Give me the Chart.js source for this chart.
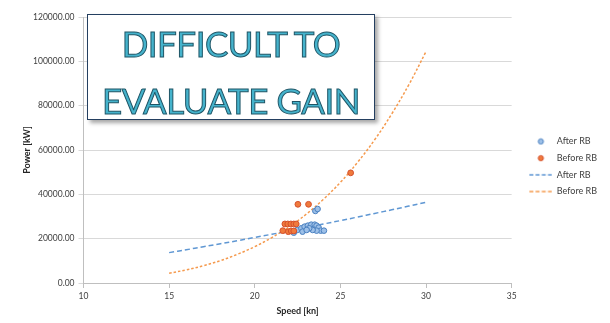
<!DOCTYPE html>
<html>
<head>
<meta charset="utf-8">
<script src="https://cdn.jsdelivr.net/npm/chart.js@4"></script>
<style>
  html, body { margin: 0; padding: 0; background: #fff; }
  #wrap { position: relative; width: 610px; height: 323px; }
  #c { position: absolute; left: 0; top: 0; }
  #note {
    position: absolute; left: 87px; top: 14px; width: 286px; height: 104px;
    background: #fff; border: 1.5px solid #243f60;
    box-shadow: 3px 3px 4px rgba(0,0,0,0.35);
  }
  .ln {
    position: absolute; left: 0; width: 100%; text-align: center;
    font-family: Lato, sans-serif; font-size: 35px; line-height: 40px;
    color: #45b3cc; -webkit-text-stroke: 1px #1f5566; letter-spacing: -0.5px;
    white-space: nowrap;
  }
</style>
</head>
<body>
<div id="wrap">
  <canvas id="c" width="610" height="323"></canvas>
  <div id="note">
    <div class="ln" style="top:8px">DIFFICULT TO</div>
    <div class="ln" style="top:65px">EVALUATE GAIN</div>
  </div>
</div>
<script>
// ---- data ----
const afterSpeed = [22.48, 22.72, 22.91, 23.10, 23.30, 23.50, 23.61, 23.73, 23.85, 24.04, 23.61, 23.38, 23.18, 22.79, 22.28, 23.03, 23.54, 23.67];
const afterPower = [23930, 24700, 25420, 25870, 26320, 26320, 25870, 24970, 23610, 23610, 23610, 23930, 24700, 23160, 22710, 23930, 32500, 33400];
const beforeSpeed = [21.76, 21.93, 22.11, 22.28, 22.42, 21.64, 21.96, 22.13, 22.28, 22.52, 23.14, 25.6];
const beforePower = [26640, 26640, 26640, 26640, 26640, 23610, 23160, 23480, 23480, 35500, 35500, 49700];
const trendSpeed = [15, 16, 17, 18, 19, 20, 21, 22, 23, 24, 25, 26, 27, 28, 29, 30];
const afterTrend = [13700, 15000, 16350, 17700, 19100, 20550, 22000, 23500, 25000, 26600, 28150, 29750, 31400, 33000, 34700, 36400];
const beforeTrend = [4400, 5900, 7800, 10100, 13000, 16400, 20500, 25300, 31000, 37700, 45400, 54400, 64600, 76300, 89500, 104400];
const seriesNames = ['After RB', 'Before RB'];
const xTicks = { min: 10, max: 35, step: 5 };
const yTicks = { min: 0, max: 120000, step: 20000 };

const blueLine = '#5f97d3', orangeLine = '#f59a4e';
const blueFill = '#9dc0e8', blueBorder = '#4a80c0';
const orangeFill = '#f07a3c', orangeBorder = '#d4502c';
const blueDash = [5, 3], orangeDash = [2.5, 2];

function pts(xs, ys) { return xs.map((x, i) => ({ x: x, y: ys[i] })); }

// legend icons: a slot, symbol drawn in its right 23px
const SLOT = 33, SYM = 23;
function circleIcon(fill, border) {
  const c = document.createElement('canvas'); c.width = SLOT; c.height = 8;
  const g = c.getContext('2d');
  g.beginPath(); g.arc(SLOT - SYM / 2, 4, 2.6, 0, Math.PI * 2);
  g.fillStyle = fill; g.fill(); g.lineWidth = 1; g.strokeStyle = border; g.stroke();
  return c;
}
function dashIcon(color) {
  const c = document.createElement('canvas'); c.width = SLOT; c.height = 4;
  const g = c.getContext('2d');
  g.strokeStyle = color; g.lineWidth = 1.5; g.setLineDash([4, 2.2]);
  g.beginPath(); g.moveTo(SLOT - SYM, 2); g.lineTo(SLOT, 2); g.stroke();
  return c;
}
const icons = [circleIcon(blueFill, blueBorder), circleIcon(orangeFill, orangeBorder), dashIcon(blueLine), dashIcon(orangeLine)];

const tickFont = { family: 'Lato, sans-serif', size: 8.5 };
const titleFont = { family: 'Lato, sans-serif', size: 9, weight: 'bold' };

new Chart(document.getElementById('c'), {
  type: 'scatter',
  data: {
    datasets: [
      { label: seriesNames[0], data: pts(afterSpeed, afterPower), backgroundColor: blueFill, borderColor: blueBorder, borderWidth: 1, pointRadius: 2.8, order: 1 },
      { label: seriesNames[1], data: pts(beforeSpeed, beforePower), backgroundColor: orangeFill, borderColor: orangeBorder, borderWidth: 1, pointRadius: 2.9, order: 0 },
      { label: seriesNames[0], type: 'line', data: pts(trendSpeed, afterTrend), borderColor: blueLine, borderWidth: 1.5, borderDash: blueDash, pointRadius: 0, tension: 0.4, fill: false, order: 2 },
      { label: seriesNames[1], type: 'line', data: pts(trendSpeed, beforeTrend), borderColor: orangeLine, borderWidth: 1.5, borderDash: orangeDash, pointRadius: 0, tension: 0.4, fill: false, order: 3 }
    ]
  },
  options: {
    responsive: false, animation: false, devicePixelRatio: 1,
    layout: { padding: { top: 17, right: 3, bottom: 7, left: 0 } },
    plugins: {
      tooltip: { enabled: false },
      legend: {
        position: 'right',
        labels: {
          font: { family: 'Lato, sans-serif', size: 9 }, color: '#404040',
          usePointStyle: true, pointStyleWidth: SLOT, padding: 7.7,
          generateLabels: (chart) => chart.data.datasets.map((ds, i) => ({
            text: ds.label, pointStyle: icons[i], datasetIndex: i, hidden: false,
            fillStyle: 'transparent', strokeStyle: 'transparent', lineWidth: 0, fontColor: '#404040'
          })),
          sort: (a, b) => a.datasetIndex - b.datasetIndex
        }
      }
    },
    scales: {
      x: {
        type: 'linear', min: xTicks.min, max: xTicks.max,
        ticks: { stepSize: xTicks.step, font: tickFont, color: '#404040', padding: 3 },
        grid: { drawOnChartArea: false, tickLength: 5, color: '#bfbfbf' },
        border: { color: '#bfbfbf' },
        title: { display: true, text: 'Speed [kn]', font: titleFont, color: '#262626', padding: { top: 2, bottom: 0 } },
        afterFit: (s) => { s.height = 33; }
      },
      y: {
        min: yTicks.min, max: yTicks.max,
        ticks: { stepSize: yTicks.step, font: tickFont, color: '#404040', padding: 4, callback: (v) => Number(v).toFixed(2) },
        grid: { color: '#d9d9d9', tickLength: 5 },
        border: { color: '#bfbfbf' },
        title: { display: true, text: 'Power [kW]', font: titleFont, color: '#262626', padding: { top: 22, bottom: 0 } },
        afterFit: (s) => { s.width = 83.5; }
      }
    }
  }
});
</script>
</body>
</html>
